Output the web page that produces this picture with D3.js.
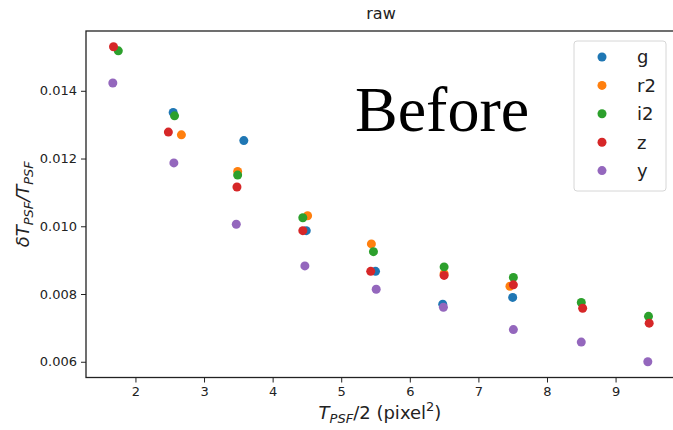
<!DOCTYPE html>
<html>
<head>
<meta charset="utf-8">
<script src="https://cdn.jsdelivr.net/npm/d3@7"></script>
<style>
  body { margin: 0; background: #fff; }
  svg { display: block; }
</style>
</head>
<body>
<svg id="chart" width="673" height="430"></svg>
<script>
// series
const bands = ['g', 'r2', 'i2', 'z', 'y'];
const colors = ['#1f77b4', '#ff7f0e', '#2ca02c', '#d62728', '#9467bd'];

const gX  = [2.55, 3.58, 4.49, 5.50, 6.48, 7.50];
const gY  = [0.01336, 0.01253, 0.00987, 0.00867, 0.00770, 0.00790];
const r2X = [2.67, 3.49, 4.51, 5.44, 6.50, 7.46];
const r2Y = [0.01270, 0.01162, 0.01031, 0.00948, 0.00860, 0.00823];
const i2X = [1.75, 2.57, 3.49, 4.44, 5.47, 6.50, 7.51, 8.50, 9.48];
const i2Y = [0.01518, 0.01326, 0.01151, 0.01025, 0.00925, 0.00880, 0.00849, 0.00775, 0.00734];
const zX  = [1.68, 2.48, 3.48, 4.44, 5.43, 6.50, 7.51, 8.52, 9.49];
const zY  = [0.01530, 0.01278, 0.01116, 0.00987, 0.00867, 0.00855, 0.00827, 0.00758, 0.00714];
const yX  = [1.67, 2.56, 3.47, 4.47, 5.51, 6.49, 7.51, 8.50, 9.47];
const yY  = [0.01423, 0.01187, 0.01006, 0.00883, 0.00814, 0.00761, 0.00695, 0.00658, 0.00600];

const xTicks = [2, 3, 4, 5, 6, 7, 8, 9];
const yTicks = [0.006, 0.008, 0.010, 0.012, 0.014];

const seriesX = [gX, r2X, i2X, zX, yX];
const seriesY = [gY, r2Y, i2Y, zY, yY];

let series = bands.map((b, i) => ({
    name: b,
    color: colors[i],
    points: seriesX[i].map((x, j) => ({ x: x, y: seriesY[i][j] }))
}));

const margin = { left: 86, right: 676, top: 31, bottom: 377.5 };

let svg = d3.select('#chart');

// matplotlib-like 5% margins around the data
let allX = [].concat(...seriesX), allY = [].concat(...seriesY);
let xr = d3.extent(allX), yr = d3.extent(allY);
let xPad = (xr[1] - xr[0]) * 0.05, yPad = (yr[1] - yr[0]) * 0.05;

let x = d3.scaleLinear()
    .domain([xr[0] - xPad, xr[1] + xPad])
    .range([margin.left, margin.right]);
let y = d3.scaleLinear()
    .domain([yr[0] - yPad, yr[1] + yPad])
    .range([margin.bottom, margin.top]);

const font = 'DejaVu Sans, sans-serif';

// axes
let xAxis = svg.append('g')
    .attr('transform', 'translate(0,' + margin.bottom + ')')
    .call(d3.axisBottom(x).tickValues(xTicks).tickFormat(d3.format('d')).tickSize(5).tickPadding(4));
let yAxis = svg.append('g')
    .attr('transform', 'translate(' + margin.left + ',0)')
    .call(d3.axisLeft(y).tickValues(yTicks).tickFormat(d3.format('.3f')).tickSize(5).tickPadding(4));

[xAxis, yAxis].forEach((ax) => {
    ax.select('.domain').remove();
    ax.selectAll('line').attr('stroke', '#222').attr('stroke-width', 1);
    ax.selectAll('text').attr('fill', '#222').style('font-family', font).style('font-size', '13px');
});

// spines (right one falls just outside the picture)
svg.append('rect')
    .attr('x', margin.left)
    .attr('y', margin.top)
    .attr('width', margin.right - margin.left)
    .attr('height', margin.bottom - margin.top)
    .attr('fill', 'none')
    .attr('stroke', '#222')
    .attr('stroke-width', 1.3);

// points
series.forEach((s) => {
    svg.append('g').selectAll('circle')
        .data(s.points)
      .enter().append('circle')
        .attr('cx', d => x(d.x))
        .attr('cy', d => y(d.y))
        .attr('r', 4.5)
        .attr('fill', s.color);
});

// title
svg.append('text')
    .attr('x', (margin.left + margin.right) / 2)
    .attr('y', 19)
    .attr('text-anchor', 'middle')
    .style('font-family', font)
    .style('font-size', '16px')
    .attr('fill', '#222')
    .text('raw');

// x label
let xl = svg.append('text')
    .attr('x', 380)
    .attr('y', 419)
    .attr('text-anchor', 'middle')
    .style('font-family', font)
    .style('font-size', '18px')
    .attr('fill', '#222');
xl.append('tspan').style('font-style', 'italic').text('T');
xl.append('tspan').attr('dy', 4).style('font-style', 'italic').style('font-size', '13px').text('PSF');
xl.append('tspan').attr('dy', -4).text('/2 (pixel');
xl.append('tspan').attr('dy', -8).style('font-size', '13px').text('2');
xl.append('tspan').attr('dy', 8).text(')');

// y label
let yl = svg.append('text')
    .attr('transform', 'translate(29,' + (margin.top + margin.bottom) / 2 + ') rotate(-90)')
    .attr('text-anchor', 'middle')
    .style('font-family', font)
    .style('font-size', '18px')
    .attr('fill', '#222');
yl.append('tspan').style('font-style', 'italic').text('δT');
yl.append('tspan').attr('dy', 4).style('font-style', 'italic').style('font-size', '13px').text('PSF');
yl.append('tspan').attr('dy', -4).style('font-style', 'italic').text('/T');
yl.append('tspan').attr('dy', 4).style('font-style', 'italic').style('font-size', '13px').text('PSF');

// "Before" annotation
svg.append('text')
    .attr('x', 355)
    .attr('y', 131)
    .style('font-family', 'Liberation Serif, Times New Roman, serif')
    .style('font-size', '64px')
    .attr('fill', '#000')
    .text('Before');

// legend
let legend = svg.append('g').attr('transform', 'translate(574,41)');
legend.append('rect')
    .attr('width', 92)
    .attr('height', 150)
    .attr('rx', 3)
    .attr('fill', '#fff')
    .attr('fill-opacity', 0.8)
    .attr('stroke', '#d6d6d6');
let items = legend.selectAll('.item')
    .data(series)
  .enter().append('g')
    .attr('transform', (d, i) => 'translate(0,' + (16 + i * 28.4) + ')');
items.append('circle')
    .attr('cx', 28)
    .attr('r', 4.5)
    .attr('fill', d => d.color);
items.append('text')
    .attr('x', 63)
    .attr('dy', '0.35em')
    .style('font-family', font)
    .style('font-size', '18px')
    .attr('fill', '#222')
    .text(d => d.name);
</script>
</body>
</html>
